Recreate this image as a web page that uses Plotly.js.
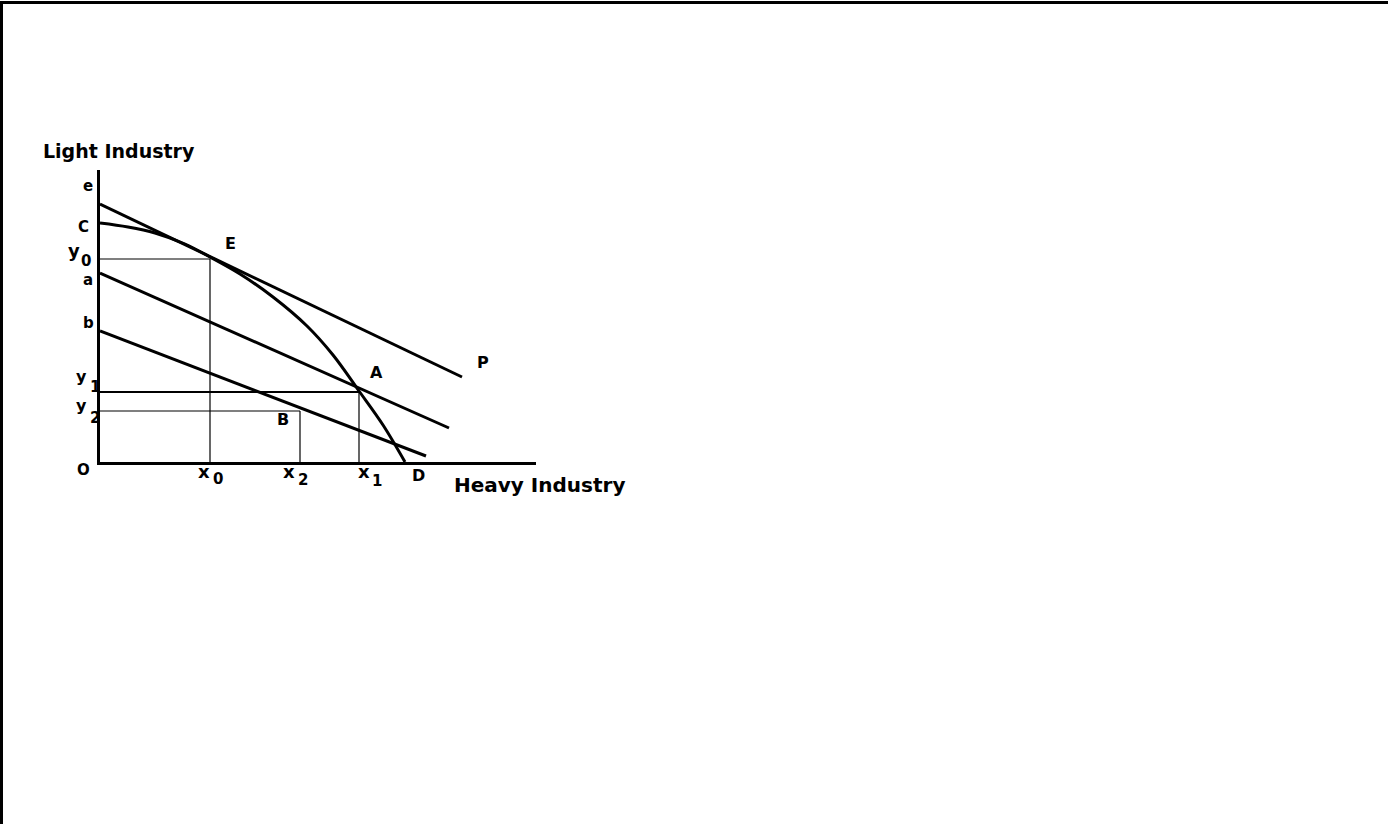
<!DOCTYPE html>
<html>
<head>
<meta charset="utf-8">
<script src="https://cdn.plot.ly/plotly-3.0.1.min.js"></script>
<style>
  html, body { margin: 0; padding: 0; background: #fff; }
  #wrap { position: relative; width: 1388px; height: 824px; overflow: hidden; }
  #chart { position: absolute; left: 0; top: 0; width: 1388px; height: 824px; }
  #frame { position: absolute; left: 0; top: 1px; width: 1388px; height: 823px;
           border-left: 3px solid #000; border-top: 3px solid #000; box-sizing: border-box;
           pointer-events: none; }
</style>
</head>
<body>
<div id="wrap">
  <div id="chart"></div>
  <div id="frame"></div>
</div>
<script>
// ---- Data ----
// Production possibility frontier C -> E -> A -> D
const ppfX = [0, 2.8, 5.5, 8.5, 11.0, 14.0, 17.3, 20.7, 23.3, 25.9, 28.3, 30.5];
const ppfY = [23.9, 23.5, 22.9, 21.8, 20.5, 18.8, 16.5, 13.6, 10.7, 7.1, 3.7, 0];

// Price line e -> P (tangent at E)
const lineEX = [0, 36.2];
const lineEY = [25.8, 8.5];
// Price line a (through A)
const lineAX = [0, 34.9];
const lineAY = [18.9, 3.4];
// Price line b (through B)
const lineBX = [0, 32.6];
const lineBY = [13.1, 0.6];

// Points
const pointNames = ["E", "A", "B"];
const pointX = [11.0, 25.9, 20.0];
const pointY = [20.3, 7.0, 5.1];

// Axis extents
const axisXMax = 43.6;
const axisYMax = 29.2;

// Axis labels
const xTitle = "Heavy Industry";
const yTitle = "Light Industry";

// Quantity labels: letter + index
const qtyLetters = ["y", "y", "y", "x", "x", "x"];
const qtyIndex   = ["0", "1", "2", "0", "2", "1"];

// ---- Build traces ----
const black = "#000";
const traces = [];
function addLine(xs, ys, w) {
  traces.push({ type: "scatter", mode: "lines", x: xs, y: ys,
    line: { color: black, width: w }, hoverinfo: "skip", showlegend: false });
}
addLine(ppfX, ppfY, 3);
traces[0].line.shape = "spline";
traces[0].line.smoothing = 1;
addLine(lineEX, lineEY, 3);
addLine(lineAX, lineAY, 3);
addLine(lineBX, lineBY, 3);

// Guide lines from each point to the axes
const guideH = [1.2, 2, 1.2];   // horizontal widths (y0, y1, y2)
pointX.forEach((px, i) => {
  addLine([0, px], [pointY[i], pointY[i]], guideH[i]);
  addLine([px, px], [pointY[i], 0], 1.2);
});

// ---- Annotations (placed in paper units derived from the data axes) ----
const F = "DejaVu Sans, Arial, sans-serif";
function ann(text, x, y, size, weight, opts) {
  return Object.assign({ text: text, x: x / axisXMax, y: y / axisYMax,
    xref: "paper", yref: "paper",
    showarrow: false, font: { family: F, size: size, color: black, weight: weight },
    xanchor: "center", yanchor: "middle" }, opts || {});
}
const letterPos = [[-2.6, 21.2], [-1.9, 8.6], [-1.85, 5.65], [10.4, -0.95], [18.9, -0.95], [26.4, -0.95]];
const indexPos  = [[-1.45, 20.1], [-0.55, 7.5], [-0.55, 4.4], [11.8, -1.7], [20.3, -1.75], [27.7, -1.85]];
const letterSize = [18, 16, 16, 18, 18, 18];

const annotations = [
  ann(yTitle, -5.9, 31.1, 19, "bold", { xanchor: "left" }),
  ann(xTitle, 35.2, -2.3, 20, "bold", { xanchor: "left" }),
  ann("e", -1.2, 27.6, 15, "bold"),
  ann("C", -1.7, 23.5, 15, "bold"),
  ann("a", -1.2, 18.2, 15, "bold"),
  ann("b", -1.2, 13.9, 15, "bold"),
  ann("O", -1.7, -0.8, 15, "bold"),
  ann("D", 31.8, -1.3, 16, "bold"),
  ann(pointNames[0], 13.0, 21.9, 16, "bold"),
  ann(pointNames[1], 27.7, 9.0, 16, "bold"),
  ann(pointNames[2], 18.3, 4.3, 16, "bold"),
  ann("P", 38.3, 10.0, 16, "bold")
];
qtyLetters.forEach((l, i) => {
  annotations.push(ann(l, letterPos[i][0], letterPos[i][1], letterSize[i], "bold"));
  annotations.push(ann(qtyIndex[i], indexPos[i][0], indexPos[i][1], 15, "bold"));
});

const axisCommon = {
  showline: true, linewidth: 3, linecolor: black, mirror: false,
  showgrid: false, zeroline: false, showticklabels: false, ticks: "",
  fixedrange: true
};

const layout = {
  width: 1388, height: 824,
  margin: { l: 100, r: 852, t: 170, b: 362, pad: 0 },
  paper_bgcolor: "#fff", plot_bgcolor: "#fff",
  xaxis: Object.assign({ range: [0, axisXMax] }, axisCommon),
  yaxis: Object.assign({ range: [0, axisYMax] }, axisCommon),
  annotations: annotations,
  showlegend: false
};

Plotly.newPlot("chart", traces, layout, { staticPlot: true, displayModeBar: false });
</script>
</body>
</html>
